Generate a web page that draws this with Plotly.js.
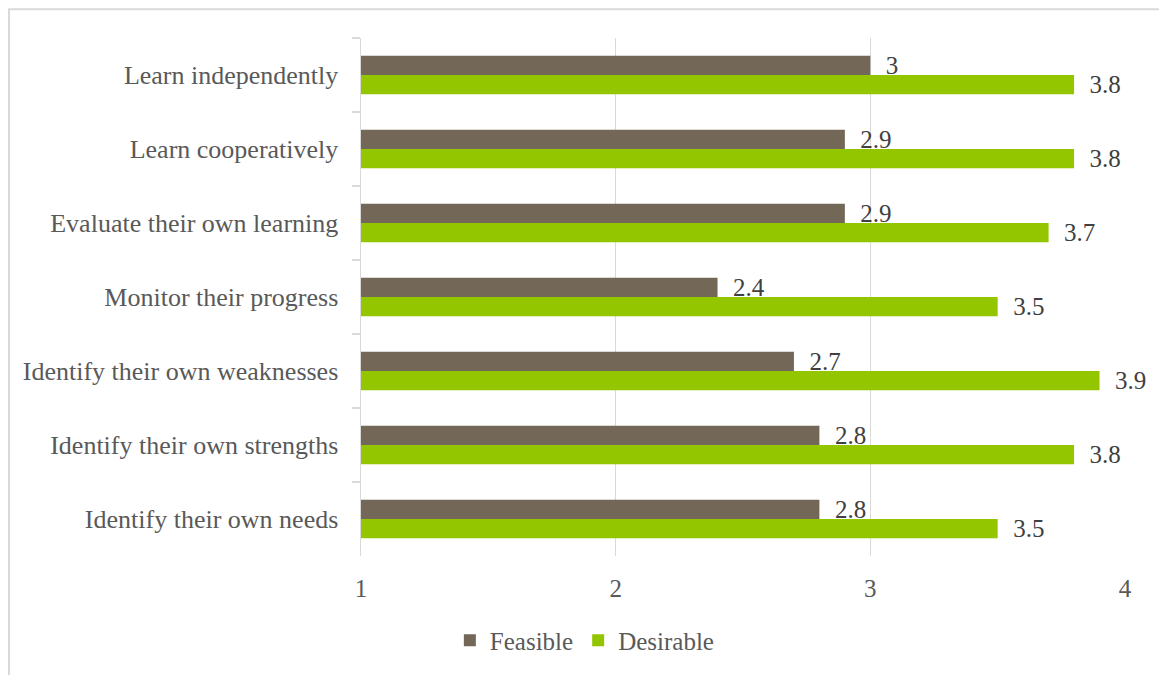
<!DOCTYPE html>
<html>
<head>
<meta charset="utf-8">
<script src="https://cdn.plot.ly/plotly-3.0.1.min.js"></script>
<style>html,body{margin:0;padding:0;background:#fff;}#chart{width:1159px;height:675px;}</style>
</head>
<body>
<div id="chart"></div>
<script>
const categories = [
  "Learn independently",
  "Learn cooperatively",
  "Evaluate their own learning",
  "Monitor their progress",
  "Identify their own weaknesses",
  "Identify their own strengths",
  "Identify their own needs"
];
const feasible = [3, 2.9, 2.9, 2.4, 2.7, 2.8, 2.8];
const desirable = [3.8, 3.8, 3.7, 3.5, 3.9, 3.8, 3.5];
const xTicks = [1, 2, 3, 4];

const FONT = "Liberation Serif, Times New Roman, serif";
const labelFont = {family: FONT, size: 25, color: "#404040"};

const traces = [
  {type: "bar", orientation: "h", name: "Feasible", y: categories, x: feasible,
   marker: {color: "#736857"}, text: feasible.map(String),
   texttemplate: "\u00a0\u00a0%{text}", textposition: "outside", cliponaxis: false,
   constraintext: "none", textfont: labelFont, hoverinfo: "x+y"},
  {type: "bar", orientation: "h", name: "Desirable", y: categories, x: desirable,
   marker: {color: "#94c600"}, text: desirable.map(String),
   texttemplate: "\u00a0\u00a0%{text}", textposition: "outside", cliponaxis: false,
   constraintext: "none", textfont: labelFont, hoverinfo: "x+y"}
];

const layout = {
  width: 1159, height: 675,
  margin: {l: 361, r: 34, t: 38, b: 115, pad: 0},
  paper_bgcolor: "#ffffff", plot_bgcolor: "#ffffff",
  font: {family: FONT, size: 25, color: "#595959"},
  barmode: "group", bargap: 0.48, bargroupgap: 0,
  xaxis: {range: [1, 4], tickvals: xTicks, ticktext: xTicks.map(String),
    showgrid: true, gridcolor: "#d9d9d9", gridwidth: 1.5, zeroline: false,
    showline: false, ticks: "", ticklabelstandoff: 15,
    tickfont: {family: FONT, size: 25, color: "#595959"}},
  yaxis: {type: "category", autorange: "reversed", tickson: "boundaries",
    ticks: "outside", ticklen: 8, tickcolor: "#d9d9d9", tickwidth: 1.5,
    showline: true, linecolor: "#d9d9d9", linewidth: 1.5, showgrid: false,
    ticklabelstandoff: 16,
    tickfont: {family: FONT, size: 26, color: "#595959"}},
  showlegend: true,
  legend: {orientation: "h", x: 0.293, xanchor: "center", y: -0.163, yanchor: "middle",
    font: {family: FONT, size: 25, color: "#595959"}, bgcolor: "rgba(0,0,0,0)"},
  shapes: [{type: "rect", xref: "paper", yref: "paper",
    x0: -0.4607, x1: 1.06, y0: -0.24, y1: 1.0556,
    line: {color: "#d9d9d9", width: 2}, fillcolor: "rgba(0,0,0,0)", layer: "below"}]
};

Plotly.newPlot("chart", traces, layout, {displayModeBar: false, staticPlot: true});
</script>
</body>
</html>
